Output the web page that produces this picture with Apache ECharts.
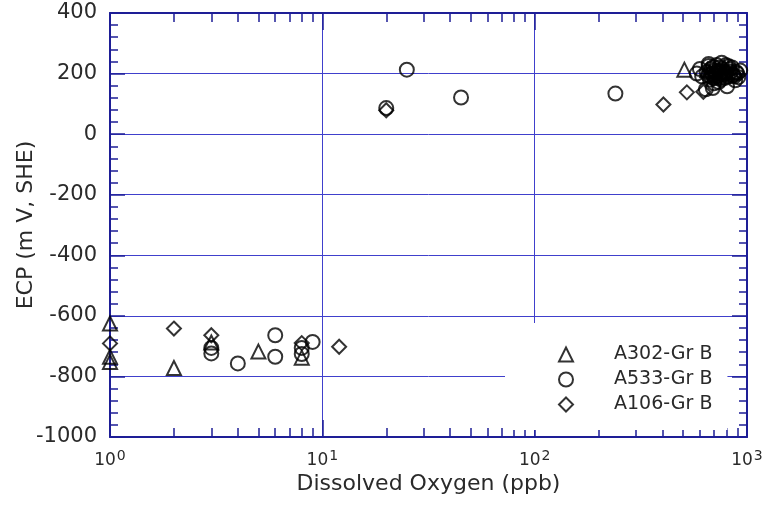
<!DOCTYPE html>
<html>
<head>
<meta charset="utf-8">
<script src="https://cdn.jsdelivr.net/npm/echarts@6/dist/echarts.min.js"></script>
<style>html,body{margin:0;padding:0;background:#fff}#c{width:772px;height:515px}</style>
</head>
<body>
<div id="c"></div>
<script>
// ---- data ----
const seriesNames = ['A302-Gr B', 'A533-Gr B', 'A106-Gr B'];
const a302 = [[1,-625],[1,-735],[1,-752],[2,-772],[3,-688],[5,-718],[8,-738],
  [507,213],[650,212],[780,222],[850,205],[720,198]];
const a533 = [[3,-706],[3,-724],[4,-757],[6,-664],[6,-735],[8,-706],[8,-726],[9,-686],
  [20,86],[25,213],[45,121],[240,134],
  [580,200],[600,215],[615,190],[640,148],[645,205],[660,225],[670,180],[685,200],[700,210],
  [710,190],[720,228],[735,172],[750,200],[765,214],[790,186],[806,158],[800,202],[820,224],
  [840,206],[860,195],[880,178],[900,200],[929,210],[700,168],[660,232],[760,236],[690,152],
  [730,210],[775,196],[830,214],[870,190],[910,188],[690,195],[745,185],
  [655,195],[675,215],[695,222],[715,205],[740,220],[755,180],[785,205],[810,190],[850,220],
  [890,205],[705,185],[725,192],[760,206],[795,228],[680,188]];
const a106 = [[1,-691],[2,-642],[3,-664],[8,-690],[12,-702],
  [20,79],[404,98],[521,138],[623,140],[700,200],[880,195]];
const xMajorTicks = [1, 10, 100, 1000];
const xMinorTicks = [2,3,4,5,6,7,8,9,20,30,40,50,60,70,80,90,200,300,400,500,600,700,800,900];
const yTicks = [-1000, -800, -600, -400, -200, 0, 200, 400];

// ---- style ----
const axisColor = '#1e1e96';
const gridColor = '#4040cc';
const textColor = '#2a2a2a';
const font = 'DejaVu Sans';

const xBase = {type: 'log', logBase: 10, min: xMajorTicks[0], max: xMajorTicks[xMajorTicks.length-1], gridIndex: 0};
const majorTick = {show: true, inside: true, length: 17, lineStyle: {color: axisColor, width: 1.5}};
const minorTickX = {show: true, inside: true, length: 9, customValues: xMinorTicks, lineStyle: {color: axisColor, width: 1.5}};
const lineOn = {show: true, onZero: false, lineStyle: {color: axisColor, width: 2}};
const lineOff = {show: false, onZero: false};

const chart = echarts.init(document.getElementById('c'), null, {renderer: 'canvas'});
chart.setOption({
  backgroundColor: '#fff',
  animation: false,
  grid: {left: 110, right: 25, top: 13, bottom: 78, containLabel: false, outerBoundsMode: 'none'},
  xAxis: [
    Object.assign({}, xBase, {
      position: 'bottom',
      axisLine: lineOn,
      axisTick: majorTick,
      splitLine: {show: true, lineStyle: {color: gridColor, width: 1}},
      axisLabel: {
        margin: 12,
        formatter: function (v) { return '{b|10}{s|' + Math.round(Math.log10(v)) + '}'; },
        rich: {
          b: {fontFamily: font, fontSize: 17, color: textColor},
          s: {fontFamily: font, fontSize: 14, color: textColor, padding: [0, 0, 10, 1]}
        }
      },
      name: 'Dissolved Oxygen (ppb)',
      nameLocation: 'middle',
      nameGap: 36,
      nameMoveOverlap: false,
      nameTextStyle: {fontFamily: font, fontSize: 22, color: textColor}
    }),
    Object.assign({}, xBase, {
      position: 'bottom',
      axisLine: lineOff, axisTick: minorTickX, axisLabel: {show: false}, splitLine: {show: false}
    }),
    Object.assign({}, xBase, {
      position: 'top',
      axisLine: lineOn, axisTick: majorTick, axisLabel: {show: false}, splitLine: {show: false}
    }),
    Object.assign({}, xBase, {
      position: 'top',
      axisLine: lineOff, axisTick: minorTickX, axisLabel: {show: false}, splitLine: {show: false}
    })
  ],
  yAxis: [
    {
      type: 'value', position: 'left', min: yTicks[0], max: yTicks[yTicks.length-1], interval: 200,
      axisLine: lineOn,
      axisTick: {show: true, inside: true, length: 15, lineStyle: {color: axisColor, width: 1.5}},
      minorTick: {show: true, splitNumber: 5, length: 8, lineStyle: {color: axisColor, width: 1.5}},
      splitLine: {show: true, lineStyle: {color: gridColor, width: 1}},
      axisLabel: {margin: 13, fontFamily: font, fontSize: 21, color: textColor, formatter: function (v) { return String(v); }},
      name: 'ECP (m V, SHE)',
      nameLocation: 'middle',
      nameGap: 73,
      nameMoveOverlap: false,
      nameTextStyle: {fontFamily: font, fontSize: 22, color: textColor}
    },
    {
      type: 'value', position: 'right', min: yTicks[0], max: yTicks[yTicks.length-1], interval: 200,
      axisLine: lineOn,
      axisTick: {show: true, inside: true, length: 15, lineStyle: {color: axisColor, width: 1.5}},
      minorTick: {show: true, splitNumber: 5, length: 8, lineStyle: {color: axisColor, width: 1.5}},
      splitLine: {show: false},
      axisLabel: {show: false}
    }
  ],
  legend: {
    orient: 'vertical',
    left: 505, top: 323,
    padding: [22, 15, 16, 53],
    backgroundColor: '#fff',
    itemWidth: 14, itemHeight: 14, itemGap: 6,
    textStyle: {fontFamily: font, fontSize: 19, color: textColor, lineHeight: 14, padding: [0, 0, 0, 36]},
    data: seriesNames
  },
  series: [
    {name: seriesNames[0], type: 'scatter', symbol: 'triangle', symbolSize: 14, data: a302,
      itemStyle: {color: 'rgba(255,255,255,0)', borderColor: '#000', borderWidth: 2}},
    {name: seriesNames[1], type: 'scatter', symbol: 'circle', symbolSize: 14, data: a533,
      itemStyle: {color: 'rgba(255,255,255,0)', borderColor: '#000', borderWidth: 2}},
    {name: seriesNames[2], type: 'scatter', symbol: 'diamond', symbolSize: 14, data: a106,
      itemStyle: {color: 'rgba(255,255,255,0)', borderColor: '#000', borderWidth: 2}}
  ]
});
</script>
</body>
</html>
